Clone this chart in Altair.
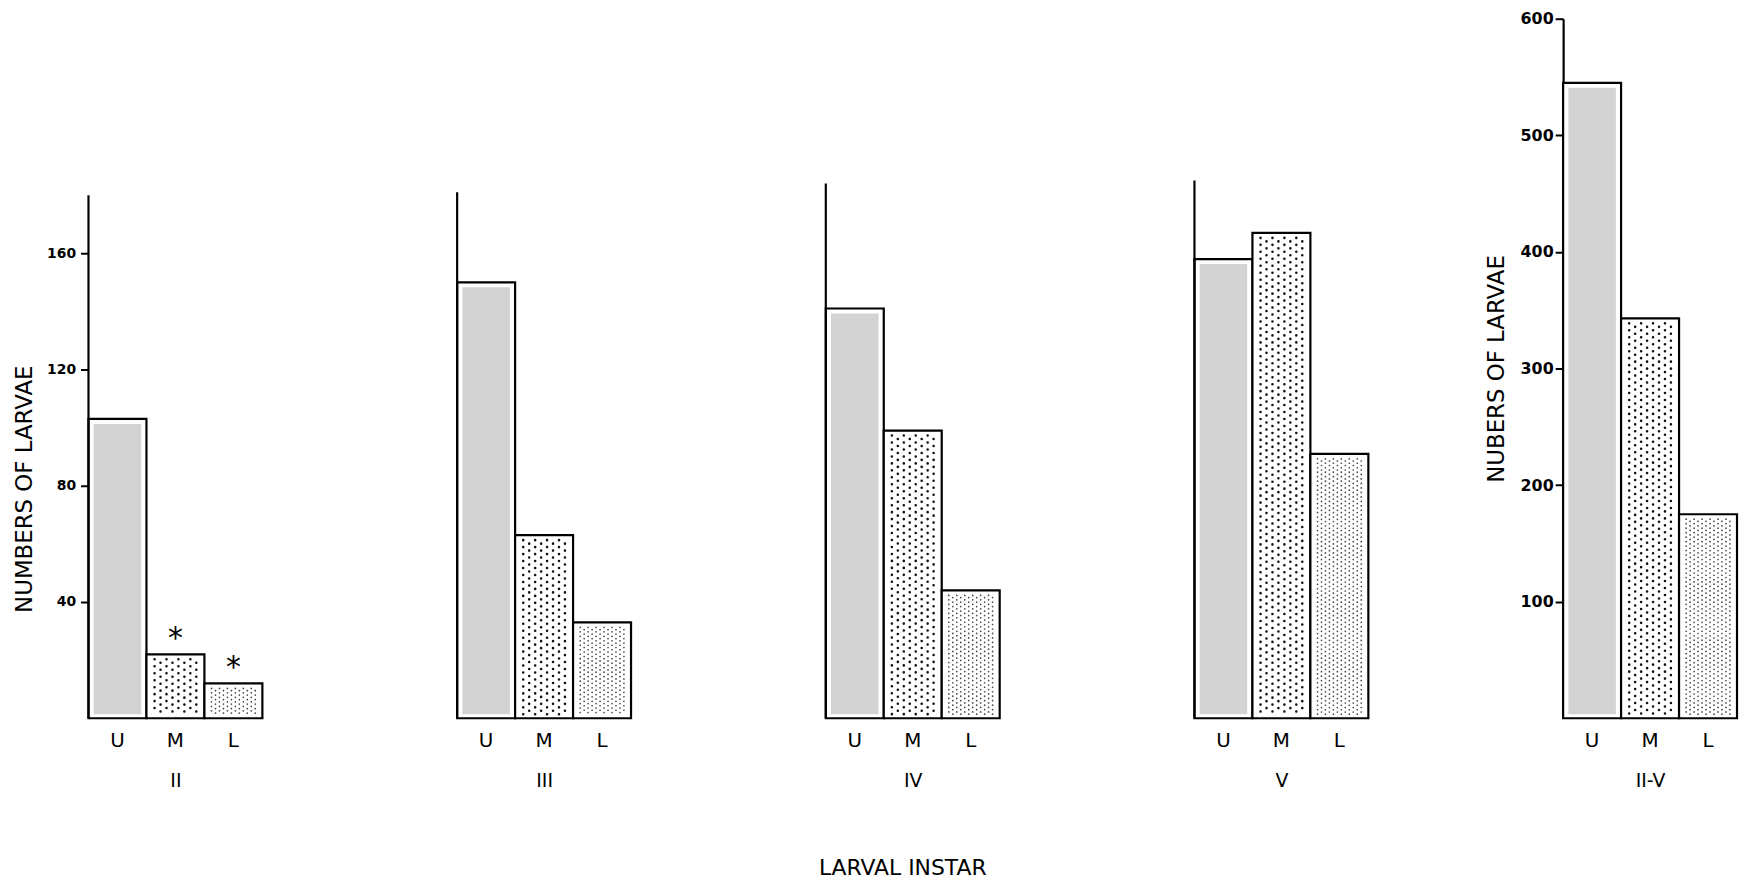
import altair as alt
import pandas as pd

# ---------------- data ----------------
CATEGORIES = ["U", "M", "L"]
INSTARS = ["II", "III", "IV", "V", "II-V"]
VALUES_II = [103, 22, 12]
VALUES_III = [150, 63, 33]
VALUES_IV = [141, 99, 44]
VALUES_V = [158, 167, 91]
VALUES_TOTAL = [545, 343, 175]
STARRED_II = [False, True, True]
AXIS_TOP = [180, 181, 184, 185]          # top of the drawn y-axis line in the instar panels
TICKS_INSTAR = [40, 80, 120, 160]
TICKS_TOTAL = [100, 200, 300, 400, 500, 600]
Y_TITLE_INSTAR = "NUMBERS OF LARVAE"
Y_TITLE_TOTAL = "NUBERS OF LARVAE"
X_TITLE = "LARVAL INSTAR"

# ---------------- layout / style ----------------
PANEL_W = 175
PANEL_H = 704
INSTAR_MAX = 240.7
TOTAL_MAX = 600
SPACING = 196
FONT = "DejaVu Sans"
STROKE = 2.2
U_GRAY = "#d3d3d3"


def x_enc(title):
    return alt.X(
        "cat:N",
        sort=CATEGORIES,
        scale=alt.Scale(domain=CATEGORIES, paddingInner=0, paddingOuter=0),
        axis=alt.Axis(
            title=title, labelAngle=0, domain=False, ticks=False, tickSize=0,
            labelPadding=12, labelFont=FONT, labelFontSize=20, labelColor="black",
            titleFont=FONT, titleFontSize=19, titleFontWeight="normal",
            titleColor="black", titlePadding=22,
        ),
    )


def dot_layers(df, cat, x, y, spacing, n, width, period, color):
    layers = []
    for i in range(n):
        off = (i - (n - 1) / 2) * spacing
        layers.append(
            alt.Chart(df)
            .transform_filter(alt.datum.cat == cat)
            .mark_rule(
                xOffset=off, yOffset=5, y2Offset=-4, strokeWidth=width,
                strokeCap="round", strokeDash=[0.01, period],
                strokeDashOffset=(period / 2 if i % 2 else 0), color=color,
            )
            .encode(x=x, y=y, y2=alt.datum(0))
        )
    return layers


def make_panel(idx, values, ymax, yaxis, axis_top=None, stars=None):
    df = pd.DataFrame({
        "cat": CATEGORIES,
        "value": values,
        "star": stars if stars is not None else [False] * len(values),
    })
    yscale = alt.Scale(domain=[0, ymax], nice=False, zero=True)
    x = x_enc(INSTARS[idx])
    y = alt.Y("value:Q", scale=yscale, axis=yaxis)

    base = alt.Chart(df)
    layers = [
        base.mark_bar(fill="white", stroke="black", strokeWidth=STROKE).encode(
            x=x, y=y, y2=alt.datum(0)
        ),
        base.transform_filter(alt.datum.cat == "U")
        .mark_bar(fill=U_GRAY, width=alt.RelativeBandSize(0.82), yOffset=5, y2Offset=-4)
        .encode(x=x, y=y, y2=alt.datum(0)),
    ]
    layers += dot_layers(df, "M", x, y, 6, 8, 2.6, 7, "#111111")
    layers += dot_layers(df, "L", x, y, 4, 12, 1.7, 4.5, "#444444")

    if axis_top is not None:
        adf = pd.DataFrame({"top": [axis_top]})
        layers.append(
            alt.Chart(adf)
            .mark_rule(color="black", strokeWidth=STROKE)
            .encode(x=alt.value(0), y=alt.Y("top:Q", scale=yscale, axis=yaxis), y2=alt.datum(0))
        )
    if stars is not None:
        layers.append(
            base.transform_filter(alt.datum.star == True)
            .mark_text(text="*", font=FONT, fontSize=30, dy=-15, baseline="middle", color="black")
            .encode(x=x, y=y)
        )
    return alt.layer(*layers).properties(width=PANEL_W, height=PANEL_H)


axis_instar = alt.Axis(
    values=TICKS_INSTAR, title=Y_TITLE_INSTAR, domain=False, grid=False,
    tickSize=8, tickWidth=2, tickColor="black",
    labelFont=FONT, labelFontWeight="bold", labelFontSize=14, labelColor="black", labelPadding=5,
    titleFont=FONT, titleFontSize=23, titleFontWeight="normal", titleColor="black",
    titlePadding=10, titleY=473,
)
axis_total = alt.Axis(
    values=TICKS_TOTAL, title=Y_TITLE_TOTAL, domain=True, domainColor="black", domainWidth=STROKE,
    grid=False, tickSize=8, tickWidth=2, tickColor="black",
    labelFont=FONT, labelFontWeight="bold", labelFontSize=16, labelColor="black", labelPadding=2,
    titleFont=FONT, titleFontSize=23, titleFontWeight="normal", titleColor="black", titlePadding=12,
)

p2 = make_panel(0, VALUES_II, INSTAR_MAX, axis_instar, AXIS_TOP[0], STARRED_II)
p3 = make_panel(1, VALUES_III, INSTAR_MAX, None, AXIS_TOP[1])
p4 = make_panel(2, VALUES_IV, INSTAR_MAX, None, AXIS_TOP[2])
p5 = make_panel(3, VALUES_V, INSTAR_MAX, None, AXIS_TOP[3])
pt = make_panel(4, VALUES_TOTAL, TOTAL_MAX, axis_total)

chart = (
    alt.hconcat(p2, p3, p4, p5, pt, spacing=SPACING, bounds="flush")
    .resolve_scale(x="independent", y="independent")
    .properties(
        title=alt.TitleParams(
            X_TITLE, orient="bottom", anchor="middle", font=FONT, fontSize=22,
            fontWeight="normal", color="black", offset=68, dx=27,
        ),
        padding={"left": 5, "top": 0, "right": 0, "bottom": 5},
        background="white",
    )
    .configure_view(stroke=None)
)

chart.save("out.html", embed_options={"renderer": "svg", "actions": False})
